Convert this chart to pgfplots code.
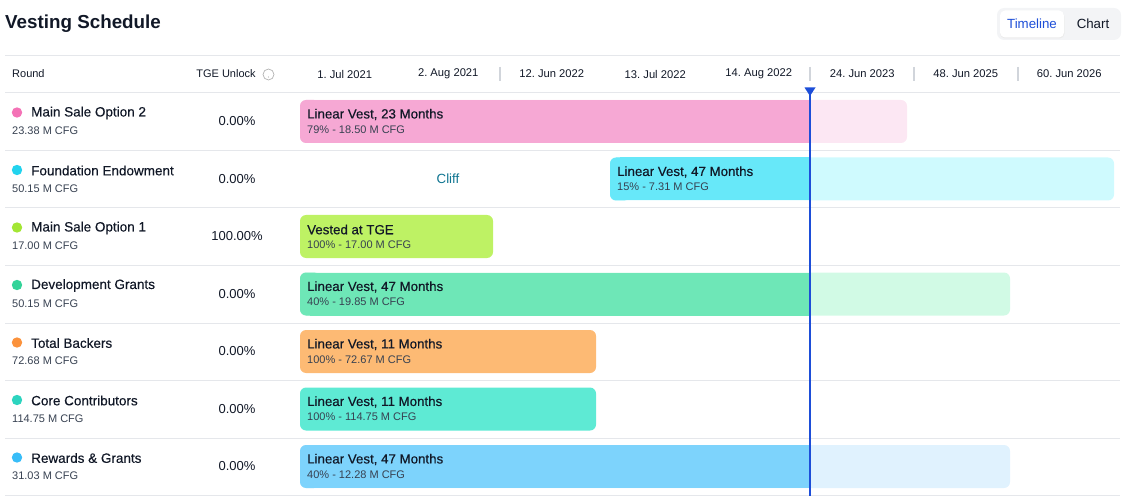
\documentclass[border=0pt]{standalone}
\usepackage{pgfplots}
\pgfplotsset{compat=1.18}
\usepackage{fontspec}
\setmainfont{Liberation Sans}
\newfontfamily\med[FakeBold=0.35]{Liberation Sans}
\frenchspacing
\definecolor{txt}{HTML}{111827}
\definecolor{sub}{HTML}{374151}
\definecolor{grid}{HTML}{E5E7EB}
\definecolor{sep}{HTML}{D1D5DB}
\definecolor{nowc}{HTML}{1D4ED8}
\definecolor{pinkD}{HTML}{F6A8D4}\definecolor{pinkL}{HTML}{FCE7F3}\definecolor{pinkDot}{HTML}{F472B6}
\definecolor{cyanD}{HTML}{67E8F9}\definecolor{cyanL}{HTML}{CFFAFE}\definecolor{cyanDot}{HTML}{22D3EE}
\definecolor{limeD}{HTML}{BEF264}\definecolor{limeDot}{HTML}{A3E635}
\definecolor{greenD}{HTML}{6EE7B7}\definecolor{greenL}{HTML}{D1FAE5}\definecolor{greenDot}{HTML}{34D399}
\definecolor{orangeD}{HTML}{FDBA74}\definecolor{orangeDot}{HTML}{FB923C}
\definecolor{tealD}{HTML}{5EEAD4}\definecolor{tealDot}{HTML}{2DD4BF}
\definecolor{blueD}{HTML}{7DD3FC}\definecolor{blueL}{HTML}{E0F2FE}\definecolor{blueDot}{HTML}{38BDF8}
\definecolor{cliffc}{HTML}{0E7490}
\definecolor{toggleBg}{HTML}{F3F4F6}

% full bar (rounded): #1 start, #2 end, #3 top, #4 bottom, #5 colour
\newcommand{\fullbar}[5]{%
  \addplot[fill=#5, draw=none, rounded corners=6pt] coordinates {(#1,#3) (#2,#3) (#2,#4) (#1,#4)} -- cycle;}
% split bar: #1 start, #2 start+10, #3 start+20, #4 now, #5 end, #6 top, #7 bottom, #8 dark, #9 light
\newcommand{\splitbar}[9]{%
  \addplot[fill=#9, draw=none, rounded corners=6pt] coordinates {(#1,#6) (#5,#6) (#5,#7) (#1,#7)} -- cycle;
  \addplot[fill=#8, draw=none] coordinates {(#2,#6) (#4,#6) (#4,#7) (#2,#7)} -- cycle;
  \addplot[fill=#8, draw=none, rounded corners=6pt] coordinates {(#1,#6) (#3,#6) (#3,#7) (#1,#7)} -- cycle;}
% bar texts
\newcommand{\bartext}[4]{%
  \node[anchor=west, inner sep=0pt, text=txt] at (axis cs:#1+7,#2+21.5) {\fontsize{13.3}{15}\med #3};
  \node[anchor=west, inner sep=0pt, text=sub] at (axis cs:#1+7,#2+36.5) {\fontsize{11}{12}\selectfont #4};}
% left columns
\newcommand{\rowinfo}[5]{%
  \fill[#2] (axis cs:17,#1+19.5) circle[radius=5.2pt];
  \node[anchor=west, inner sep=0pt, text=txt] at (axis cs:31,#1+20) {\fontsize{13.5}{15}\med #3};
  \node[anchor=west, inner sep=0pt, text=sub] at (axis cs:12,#1+38) {\fontsize{11}{12}\selectfont #4};
  \node[inner sep=0pt, text=txt] at (axis cs:237,#1+28.5) {\fontsize{13}{15}\selectfont #5};}
\newcommand{\rowline}[1]{\draw[grid, line width=1pt] (axis cs:5,#1) -- (axis cs:1120,#1);}
\newcommand{\datelab}[2]{\node[inner sep=0pt, text=txt] at (axis cs:#1,74) {\fontsize{11.2}{12}\selectfont #2};}
\newcommand{\sepline}[1]{\draw[sep, line width=1.3pt] (axis cs:#1,67) -- (axis cs:#1,81);}

\begin{document}
\begin{tikzpicture}
\begin{axis}[
  scale only axis, width=1127pt, height=496pt,
  xmin=0, xmax=1127, ymin=0, ymax=496, y dir=reverse,
  hide axis, clip=false]
\path (axis cs:0,0) rectangle (axis cs:1127,496);

% title and toggle
\node[anchor=west, inner sep=0pt, text=txt] at (axis cs:5,23.5) {\fontsize{18.8}{22}\selectfont\bfseries Vesting Schedule};
\fill[toggleBg, rounded corners=7pt] (axis cs:997,8) rectangle (axis cs:1121,40);
\fill[black!8, rounded corners=5pt] (axis cs:1000,11.5) rectangle (axis cs:1064.5,38.5);
\fill[white, rounded corners=5pt] (axis cs:1000,10.5) rectangle (axis cs:1064,37.5);
\node[text=nowc, inner sep=0pt] at (axis cs:1032,23.5) {\fontsize{13.3}{15}\selectfont Timeline};
\node[text=txt, inner sep=0pt] at (axis cs:1093,23.5) {\fontsize{13.3}{15}\selectfont Chart};

% table lines
\rowline{56}\rowline{93}\rowline{150.5}\rowline{208}\rowline{265.5}\rowline{323}\rowline{380.5}\rowline{438}\rowline{495}

% header
\node[anchor=west, inner sep=0pt, text=txt] at (axis cs:12,74) {\fontsize{11}{12}\selectfont Round};
\node[inner sep=0pt, text=txt] at (axis cs:226,74) {\fontsize{11}{12}\selectfont TGE Unlock};
\draw[black!30, line width=0.7pt] (axis cs:268.5,74.5) circle[radius=5.5pt];
\fill[black!30] (axis cs:268.5,77) circle[radius=0.7pt];
\datelab{344.75}{1. Jul 2021}
\datelab{448.25}{2. Aug 2021}
\datelab{551.75}{12. Jun 2022}
\datelab{655.25}{13. Jul 2022}
\datelab{758.75}{14. Aug 2022}
\datelab{862.25}{24. Jun 2023}
\datelab{965.75}{48. Jun 2025}
\datelab{1069.25}{60. Jun 2026}
\sepline{500}\sepline{810}\sepline{914}\sepline{1018}

% rows: left info
\rowinfo{93}{pinkDot}{Main Sale Option 2}{23.38 M CFG}{0.00\%}
\rowinfo{150.5}{cyanDot}{Foundation Endowment}{50.15 M CFG}{0.00\%}
\rowinfo{208}{limeDot}{Main Sale Option 1}{17.00 M CFG}{100.00\%}
\rowinfo{265.5}{greenDot}{Development Grants}{50.15 M CFG}{0.00\%}
\rowinfo{323}{orangeDot}{Total Backers}{72.68 M CFG}{0.00\%}
\rowinfo{380.5}{tealDot}{Core Contributors}{114.75 M CFG}{0.00\%}
\rowinfo{438}{blueDot}{Rewards \& Grants}{31.03 M CFG}{0.00\%}

% bars
\splitbar{300}{310}{320}{810}{907}{100}{143}{pinkD}{pinkL}
\splitbar{610}{620}{630}{810}{1114}{157.5}{200.5}{cyanD}{cyanL}
\fullbar{300}{493}{215}{258}{limeD}
\splitbar{300}{310}{320}{810}{1010}{272.5}{315.5}{greenD}{greenL}
\fullbar{300}{596}{330}{373}{orangeD}
\fullbar{300}{596}{387.5}{430.5}{tealD}
\splitbar{300}{310}{320}{810}{1010}{445}{488}{blueD}{blueL}

% bar texts
\bartext{300}{93}{Linear Vest, 23 Months}{79\% - 18.50 M CFG}
\node[inner sep=0pt, text=cliffc] at (axis cs:448,178.5) {\fontsize{13.3}{15}\selectfont Cliff};
\bartext{610}{150.5}{Linear Vest, 47 Months}{15\% - 7.31 M CFG}
\bartext{300}{208}{Vested at TGE}{100\% - 17.00 M CFG}
\bartext{300}{265.5}{Linear Vest, 47 Months}{40\% - 19.85 M CFG}
\bartext{300}{323}{Linear Vest, 11 Months}{100\% - 72.67 M CFG}
\bartext{300}{380.5}{Linear Vest, 11 Months}{100\% - 114.75 M CFG}
\bartext{300}{438}{Linear Vest, 47 Months}{40\% - 12.28 M CFG}

% now line
\addplot[nowc, line width=2pt] coordinates {(810,90) (810,496)};
\addplot[fill=nowc, draw=none] coordinates {(804.5,87.5) (815.5,87.5) (810,96)} -- cycle;
\end{axis}
\end{tikzpicture}
\end{document}
